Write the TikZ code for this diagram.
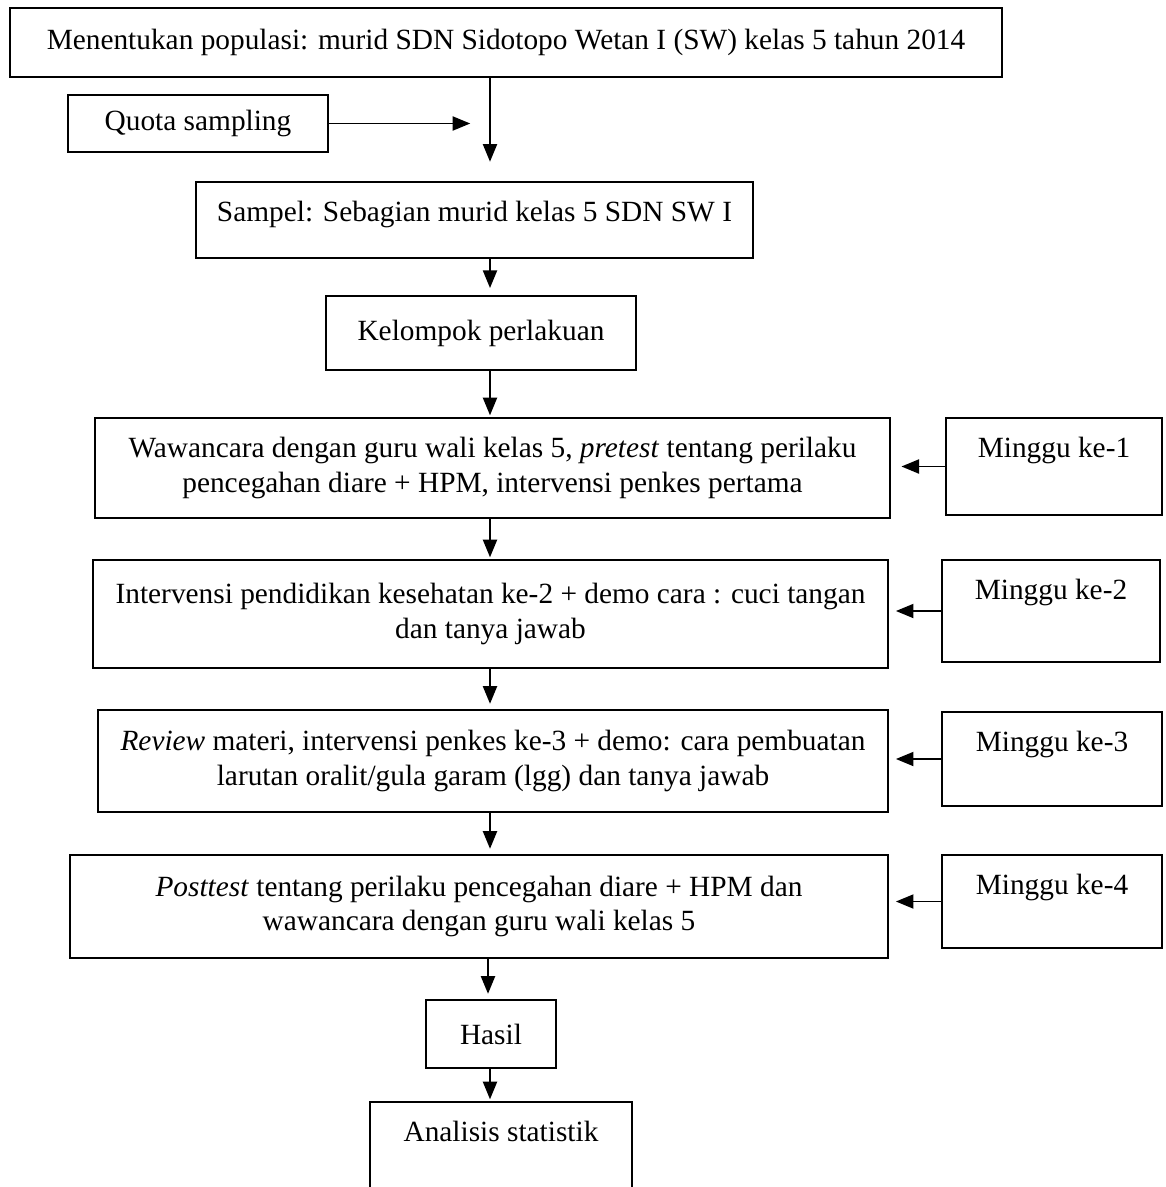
\documentclass[tikz,border=0pt]{standalone}
\usepackage{fontspec}
\setmainfont{Liberation Serif}
\usetikzlibrary{arrows.meta}

\begin{document}
\begin{tikzpicture}[x=0.02cm,y=-0.02cm,
    kotak/.style={draw,line width=1.1pt,inner sep=0pt,align=center,
      font=\fontsize{16.7}{19.8}\selectfont},
    teksatas/.style={anchor=north,inner xsep=0pt,inner ysep=11pt,
      font=\fontsize{16.7}{19.8}\selectfont},
    panah/.style={line width=1pt,-{Triangle[length=10pt,width=8pt]},shorten >=1pt}]
  \useasboundingbox (0,0) rectangle (1166,1187);
  \coordinate (jalur) at (490,0);
  % alur utama
  \node[kotak,minimum width=19.84cm,minimum height=1.38cm] (populasi) at (506,42.5)
    {Menentukan populasi: murid SDN Sidotopo Wetan I (SW) kelas 5 tahun 2014};
  \node[kotak,minimum width=5.2cm,minimum height=1.14cm] (quota) at (198,123.5) {Quota sampling};
  \coordinate (ujungquota) at (472,123.5);
  \node[kotak,minimum width=11.14cm,minimum height=1.52cm,
    label={[teksatas]north:Sampel: Sebagian murid kelas 5 SDN SW I}] (sampel) at (474.5,220) {};
  \node[kotak,minimum width=6.2cm,minimum height=1.48cm] (kelompok) at (481,333)
    {Kelompok perlakuan};
  \node[kotak,minimum width=15.9cm,minimum height=2cm] (wawancara) at (492.5,468)
    {Wawancara dengan guru wali kelas 5, \textit{pretest} tentang perilaku\\
     pencegahan diare + HPM, intervensi penkes pertama};
  \node[kotak,minimum width=15.9cm,minimum height=2.16cm] (intervensi) at (490.5,614)
    {Intervensi pendidikan kesehatan ke-2 + demo cara : cuci tangan\\
     dan tanya jawab};
  \node[kotak,minimum width=15.8cm,minimum height=2.04cm] (review) at (493,761)
    {\textit{Review} materi, intervensi penkes ke-3 + demo: cara pembuatan\\
     larutan oralit/gula garam (lgg) dan tanya jawab};
  \node[kotak,minimum width=16.36cm,minimum height=2.06cm] (posttest) at (479,906.5)
    {\textit{Posttest} tentang perilaku pencegahan diare + HPM dan\\
     wawancara dengan guru wali kelas 5};
  \node[kotak,minimum width=2.6cm,minimum height=1.36cm] (hasil) at (491,1034) {Hasil};
  \node[kotak,minimum width=5.24cm,minimum height=2.1cm,
    label={[teksatas]north:Analisis statistik}] (analisis) at (501,1154.5) {};
  % minggu
  \node[kotak,minimum width=4.32cm,minimum height=1.94cm,
    label={[teksatas]north:Minggu ke-1}] (minggu1) at (1054,466.5) {};
  \node[kotak,minimum width=4.36cm,minimum height=2.04cm,
    label={[teksatas]north:Minggu ke-2}] (minggu2) at (1051,611) {};
  \node[kotak,minimum width=4.4cm,minimum height=1.88cm,
    label={[teksatas]north:Minggu ke-3}] (minggu3) at (1052,759) {};
  \node[kotak,minimum width=4.4cm,minimum height=1.86cm,
    label={[teksatas]north:Minggu ke-4}] (minggu4) at (1052,901.5) {};
  % panah
  \draw[panah] (quota.east) -- (ujungquota);
  \draw[panah,shorten >=11pt] (populasi.south -| jalur) -- (sampel.north -| jalur);
  \draw[panah,shorten >=4pt] (sampel.south -| jalur) -- (kelompok.north -| jalur);
  \draw[panah] (kelompok.south -| jalur) -- (wawancara.north -| jalur);
  \draw[panah] (wawancara.south -| jalur) -- (intervensi.north -| jalur);
  \draw[panah,shorten >=3pt] (intervensi.south -| jalur) -- (review.north -| jalur);
  \draw[panah,shorten >=3pt] (review.south -| jalur) -- (posttest.north -| jalur);
  \draw[panah,shorten >=3pt] (posttest.south -| hasil) ++(-3,0) -- ([xshift=-3*0.02cm]hasil.north);
  \draw[panah] (hasil.south -| jalur) -- (analisis.north -| jalur);
  \draw[panah,shorten >=6pt] (minggu1.west) -- (wawancara.east |- minggu1.west);
  \draw[panah,shorten >=4pt] (minggu2.west) -- (intervensi.east |- minggu2.west);
  \draw[panah,shorten >=4pt] (minggu3.west) -- (review.east |- minggu3.west);
  \draw[panah,shorten >=4pt] (minggu4.west) -- (posttest.east |- minggu4.west);
\end{tikzpicture}
\end{document}
